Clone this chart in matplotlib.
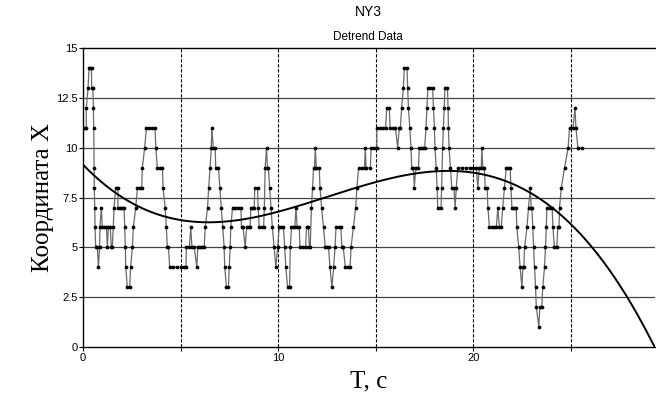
import numpy as np
import matplotlib
matplotlib.use("Agg")
from matplotlib import pyplot as plt

t_sec = [
    0.00, 0.08, 0.17, 0.17, 0.26, 0.31, 0.38, 0.44, 0.44, 0.51, 0.53, 0.55, 0.57, 0.58, 0.60, 0.62,
    0.65, 0.74, 0.79, 0.85, 0.87, 0.94, 0.99, 1.10, 1.20, 1.25, 1.30, 1.40, 1.45, 1.50, 1.55, 1.59,
    1.68, 1.79, 1.79, 1.90, 2.00, 2.10, 2.14, 2.17, 2.19, 2.27, 2.39, 2.44, 2.53, 2.58, 2.70, 2.79,
    2.90, 3.01, 3.04, 3.16, 3.25, 3.40, 3.55, 3.69, 3.73, 3.81, 3.95, 4.07, 4.10, 4.21, 4.27, 4.32,
    4.38, 4.44, 4.60, 4.80, 5.00, 5.15, 5.27,
    5.30, 5.45, 5.52, 5.58, 5.70, 5.83, 5.88, 6.00, 6.10, 6.21, 6.26, 6.38, 6.44, 6.51, 6.57, 6.60,
    6.67, 6.77, 6.80, 6.94, 7.01, 7.08, 7.16, 7.23, 7.26, 7.35, 7.45, 7.49, 7.54, 7.57, 7.66, 7.80,
    7.95, 8.09, 8.12, 8.20, 8.31, 8.38, 8.50, 8.56, 8.60, 8.70, 8.77, 8.80, 8.94, 8.97, 9.03, 9.15,
    9.25, 9.29, 9.33, 9.40, 9.45, 9.50, 9.56, 9.63, 9.70, 9.79, 9.88, 9.97, 10.05, 10.15, 10.27, 10.33,
    10.39, 10.48, 10.58, 10.62, 10.68,
    10.74, 10.85, 10.91, 10.97, 11.08, 11.11, 11.25, 11.40, 11.45, 11.55, 11.59, 11.64, 11.70, 11.76,
    11.81, 11.86, 11.90, 11.95, 12.10, 12.14, 12.22, 12.32, 12.41, 12.50, 12.58, 12.65, 12.75, 12.84,
    12.91, 12.96, 13.10, 13.21, 13.26, 13.33, 13.44, 13.55, 13.68, 13.73, 13.85, 13.97, 14.03, 14.12,
    14.30, 14.42, 14.46, 14.50, 14.72, 14.76, 14.90, 15.05, 15.05, 15.20, 15.35, 15.50, 15.56, 15.69,
    15.73, 15.90,
    16.00, 16.12, 16.20, 16.26, 16.32, 16.41, 16.46, 16.60, 16.63, 16.67, 16.74, 16.80, 16.84, 16.92,
    16.97, 17.05, 17.18, 17.23, 17.30, 17.40, 17.50, 17.57, 17.62, 17.66, 17.80, 17.91, 17.95, 18.00,
    18.03, 18.09, 18.14, 18.17, 18.34, 18.37, 18.42, 18.46, 18.50, 18.54, 18.67, 18.70, 18.72, 18.75,
    18.82, 18.89, 19.00, 19.06, 19.12, 19.20, 19.40, 19.60, 19.80, 20.00, 20.15, 20.22, 20.30, 20.40,
    20.43, 20.48, 20.56, 20.60, 20.70, 20.74, 20.82, 20.95, 21.05, 21.17, 21.25,
    21.33, 21.42, 21.50, 21.59, 21.68, 21.78, 21.88, 21.92, 21.97, 22.10, 22.19, 22.22, 22.32, 22.39,
    22.48, 22.53, 22.58, 22.62, 22.74, 22.82, 22.91, 22.96, 22.99, 23.04, 23.08, 23.13, 23.18, 23.22,
    23.35, 23.40, 23.50, 23.55, 23.64, 23.69, 23.73, 23.76, 23.90, 24.03, 24.07, 24.15, 24.27, 24.32,
    24.38, 24.41, 24.50, 24.67, 24.85, 24.92, 25.10, 25.20, 25.25, 25.35, 25.57,
]
coord_x = [
    11, 11, 11, 12, 13, 14, 14, 14, 13, 13, 12, 11, 9, 8, 7, 6,
    5, 5, 4, 5, 6, 7, 6, 6, 6, 5, 6, 6, 5, 5, 6, 7,
    8, 8, 7, 7, 7, 7, 6, 5, 4, 3, 3, 4, 5, 6, 7, 8,
    8, 8, 9, 10, 11, 11, 11, 11, 10, 9, 9, 9, 8, 7, 6, 5,
    5, 4, 4, 4, 4, 4, 4,
    5, 5, 6, 5, 5, 4, 5, 5, 5, 5, 6, 7, 8, 9, 10, 11,
    10, 10, 9, 9, 8, 7, 6, 5, 4, 3, 3, 4, 5, 6, 7, 7,
    7, 7, 6, 6, 5, 6, 6, 6, 7, 7, 7, 8, 8, 7, 6, 6,
    6, 7, 9, 10, 9, 9, 8, 7, 6, 5, 4, 5, 6, 6, 6, 5,
    4, 3, 3, 5, 6,
    6, 6, 7, 6, 6, 5, 5, 5, 6, 6, 5, 5, 7, 8,
    9, 9, 10, 9, 9, 8, 7, 6, 5, 5, 5, 4, 3, 4,
    5, 6, 6, 6, 5, 5, 4, 4, 4, 5, 6, 7, 8, 9,
    9, 9, 10, 9, 9, 10, 10, 10, 11, 11, 11, 11, 12, 12,
    11, 11,
    11, 10, 11, 11, 12, 13, 14, 14, 13, 12, 11, 10, 9, 9,
    8, 9, 9, 10, 10, 10, 10, 11, 12, 13, 13, 13, 12, 11,
    10, 9, 8, 7, 7, 8, 10, 11, 12, 13, 13, 12, 11, 10,
    9, 8, 8, 7, 8, 9, 9, 9, 9, 9, 9, 8, 9, 9,
    10, 9, 9, 8, 8, 7, 6, 6, 6, 6, 7,
    6, 6, 7, 8, 9, 9, 9, 8, 7, 7, 7, 6, 5, 4,
    3, 4, 4, 5, 6, 7, 8, 7, 7, 6, 5, 4, 3, 2,
    1, 2, 2, 3, 4, 5, 6, 7, 7, 7, 6, 5, 5, 6,
    6, 7, 8, 9, 10, 11, 11, 12, 11, 10, 10,
]

# trend curve, read at a few points
trend_t = [0, 2.5, 5, 7.5, 10, 15, 20, 25, 26.1, 27.8, 29.3]
trend_v = [9.15, 7.3, 6.2, 6.4, 6.85, 8.24, 8.7, 6.25, 5.0, 2.5, 0.0]

title = "NY3"
subtitle = "Detrend Data"
xlabel = "T, c"
ylabel = "Координата X"

fig = plt.figure(figsize=(6.56, 4.01), dpi=100)
ax = fig.add_axes([0.1265, 0.1347, 0.8720, 0.7453])

coef = np.polyfit(trend_t, trend_v, 4)
tt = np.linspace(0, 29.3, 300)
yy = np.clip(np.polyval(coef, tt), 0, None)

ax.set_xlim(0, 29.3)
ax.set_ylim(0, 15)

for y in np.arange(2.5, 14.9, 2.5):
    ax.axhline(y, color="#444444", lw=0.9, zorder=1)
for x in range(5, 30, 5):
    ax.axvline(x, color="black", lw=0.8, ls=(0, (3, 1.5)), zorder=1)

ax.plot(t_sec, coord_x, color="#6a6a6a", lw=0.9, marker="o", ms=1.7,
        mfc="black", mec="black", zorder=3)
ax.plot(tt, yy, color="black", lw=1.4, zorder=4)

ax.set_xticks(range(0, 30, 5))
ax.set_xticklabels(["0", "", "10", "", "20", ""])
ax.set_yticks(np.arange(0, 15.1, 2.5))
ax.set_yticklabels(["0", "2.5", "5", "7.5", "10", "12.5", "15"])
ax.tick_params(length=3, width=0.8, labelsize=8, pad=1)
for lab in ax.get_xticklabels() + ax.get_yticklabels():
    lab.set_family("Liberation Sans")

ax.spines["right"].set_visible(False)
for s in ("left", "bottom", "top"):
    ax.spines[s].set_linewidth(1.0)

fig.text(0.5615, 0.970, title, ha="center", va="center", fontsize=10, family="Liberation Sans")
fig.text(0.5615, 0.908, subtitle, ha="center", va="center", fontsize=8.5, family="Liberation Sans")
ax.set_xlabel(xlabel, fontsize=18, family="Liberation Serif", labelpad=6)
ax.set_ylabel(ylabel, fontsize=18, family="Liberation Serif")
ax.yaxis.set_label_coords(-0.05, 0.5)

fig.savefig("out.png", dpi=100)
